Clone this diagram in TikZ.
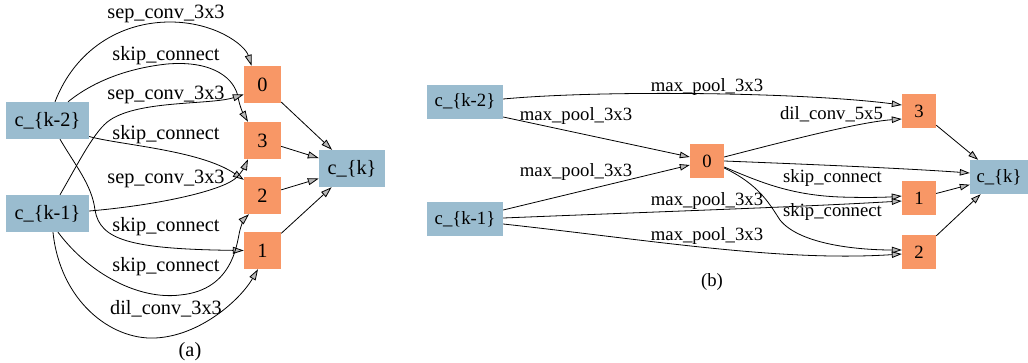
\documentclass[tikz,border=0pt]{standalone}
\usepackage{fontspec}
\setmainfont{Liberation Serif}
\usetikzlibrary{arrows.meta,calc}
\definecolor{inblue}{HTML}{9ABCCF}
\definecolor{midor}{HTML}{F89766}
\begin{document}
\begin{tikzpicture}[x=1pt,y=-1pt,
  fA/.style={font=\fontsize{20.3}{24}\selectfont},
  fB/.style={font=\fontsize{18.7}{22}\selectfont},
  inA/.style={fA,fill=inblue,minimum width=83pt,minimum height=37pt,inner sep=0pt},
  outA/.style={fA,fill=inblue,minimum width=66pt,minimum height=37pt,inner sep=0pt},
  midA/.style={fA,fill=midor,minimum width=37pt,minimum height=37pt,inner sep=0pt},
  inB/.style={fB,fill=inblue,minimum width=76pt,minimum height=34pt,inner sep=0pt},
  outB/.style={fB,fill=inblue,minimum width=58pt,minimum height=34pt,inner sep=0pt},
  midB/.style={fB,fill=midor,minimum width=34pt,minimum height=34pt,inner sep=0pt},
  lblA/.style={fA,inner sep=0pt,anchor=base},
  lblB/.style={fB,inner sep=0pt,anchor=base},
  edA/.style={draw,line width=0.8pt,-{Triangle[length=11pt,width=7pt,fill=gray!55]}},
  edB/.style={draw,line width=0.8pt,-{Triangle[length=10pt,width=6.5pt,fill=gray!55]}}]
\useasboundingbox (0,0) rectangle (1028,362);
% ---------- (a) ----------
\node[inA] (ka) at (47.5,120.5) {c\_\{k-2\}};
\node[inA] (kb) at (47.5,213.5) {c\_\{k-1\}};
\node[midA] (n0) at (262.5,84.5) {0};
\node[midA] (n3) at (262.5,140.5) {3};
\node[midA] (n2) at (262.5,195.5) {2};
\node[midA] (n1) at (262.5,250.5) {1};
\node[outA] (kk) at (352,168.5) {c\_\{k\}};

\path[edA] ($(ka.north)+(7.5,0)$) .. controls (75,50) and (120,22) .. (170,22)
  .. controls (215,22) and (245,45) .. ($(n0.north)+(-11,0)$);
\path[edA] ($(ka.north)+(20.5,0)$) .. controls (95,80) and (130,68) .. (167,64)
  .. controls (215,60) and (235,80) .. (238,97) .. controls (240,108) and (244,115) .. ($(n3.north)+(-14.5,0)$);
\path[edA] ($(kb.north)+(12.5,0)$) .. controls (80,160) and (95,130) .. (110,120)
  .. controls (140,100) and (210,105) .. ($(n0.west)+(0,10)$);
\path[edA] ($(ka.east)+(0,16)$) .. controls (120,145) and (200,150) .. ($(n2.north west)+(0,3)$);
\path[edA] ($(kb.east)+(0,-2.5)$) .. controls (160,205) and (225,190) .. (237,177)
  .. controls (242,172) and (245,166) .. ($(n3.south)+(-14.5,0)$);
\path[edA] ($(ka.south)+(12.5,0)$) .. controls (75,165) and (92,185) .. (95,210)
  .. controls (100,240) and (130,249) .. (n1.west);
\path[edA] ($(kb.south)+(10.5,0)$) .. controls (90,275) and (140,300) .. (180,295)
  .. controls (235,290) and (237,240) .. (240,230) .. controls (242,222) and (245,218) .. ($(n2.south)+(-13.5,0)$);
\path[edA] ($(kb.south)+(5.5,0)$) .. controls (60,300) and (110,340) .. (155,338)
  .. controls (200,336) and (240,300) .. ($(n1.south)+(-4.5,0)$);
\path[edA] (n0) -- (kk);
\path[edA] (n3) -- (kk);
\path[edA] (n2) -- (kk);
\path[edA] (n1) -- (kk);

\node[lblA] (la1) at (166,18.5) {sep\_conv\_3x3};
\node[lblA] (la2) at (166,60) {skip\_connect};
\node[lblA] (la3) at (166,99) {sep\_conv\_3x3};
\node[lblA] (la4) at (166,139.5) {skip\_connect};
\node[lblA] (la5) at (166,183) {sep\_conv\_3x3};
\node[lblA] (la6) at (166,231) {skip\_connect};
\node[lblA] (la7) at (166,271) {skip\_connect};
\node[lblA] (la8) at (166,314) {dil\_conv\_3x3};
\node[lblA] (capa) at (190,356) {(a)};

% ---------- (b) ----------
\node[inB] (rka) at (465,101.5) {c\_\{k-2\}};
\node[inB] (rkb) at (465,219) {c\_\{k-1\}};
\node[midB] (r0) at (707,161) {0};
\node[midB] (r3) at (919,111) {3};
\node[midB] (r1) at (919,198) {1};
\node[midB] (r2) at (919,252) {2};
\node[outB] (rkk) at (999,177) {c\_\{k\}};

\path[edB] ($(rka.east)+(0,-2.5)$) .. controls (600,90) and (800,92) .. ($(r3.west)+(0,-6)$);
\path[edB] ($(rka.east)+(0,15.5)$) -- ($(r0.west)+(0,-4)$);
\path[edB] ($(rkb.east)+(0,-9)$) -- ($(r0.west)+(0,4)$);
\path[edB] ($(r0.east)+(0,-4)$) .. controls (790,140) and (860,122) .. ($(r3.west)+(0,8)$);
\path[edB] (r0.east) .. controls (800,164) and (900,168) .. ($(rkk.west)+(0,-4)$);
\path[edB] ($(r0.east)+(0,6)$) .. controls (760,182) and (790,195) .. (840,197)
  .. controls (870,198) and (890,197) .. ($(r1.west)+(0,-2)$);
\path[edB] ($(rkb.east)+(0,-1)$) .. controls (650,212) and (800,207) .. ($(r1.west)+(0,3)$);
\path[edB] ($(r0.east)+(0,7)$) .. controls (760,185) and (770,205) .. (780,220)
  .. controls (800,245) and (860,250) .. ($(r2.west)+(0,-2)$);
\path[edB] ($(rkb.east)+(0,5)$) .. controls (650,240) and (780,262) .. ($(r2.west)+(0,2)$);
\path[edB] (r3) -- (rkk);
\path[edB] (r1) -- (rkk);
\path[edB] (r2) -- (rkk);

\node[lblB] (lb1) at (707,91.7) {max\_pool\_3x3};
\node[lblB] (lb2) at (576,120) {max\_pool\_3x3};
\node[lblB] (lb3) at (576,176.5) {max\_pool\_3x3};
\node[lblB] (lb4) at (831.5,119.3) {dil\_conv\_5x5};
\node[lblB] (lb5) at (832.5,182.7) {skip\_connect};
\node[lblB] (lb6) at (707,205.7) {max\_pool\_3x3};
\node[lblB] (lb7) at (832.5,216.7) {skip\_connect};
\node[lblB] (lb8) at (707,240) {max\_pool\_3x3};
\node[lblB] (capb) at (712,286.5) {(b)};
\end{tikzpicture}
\end{document}
